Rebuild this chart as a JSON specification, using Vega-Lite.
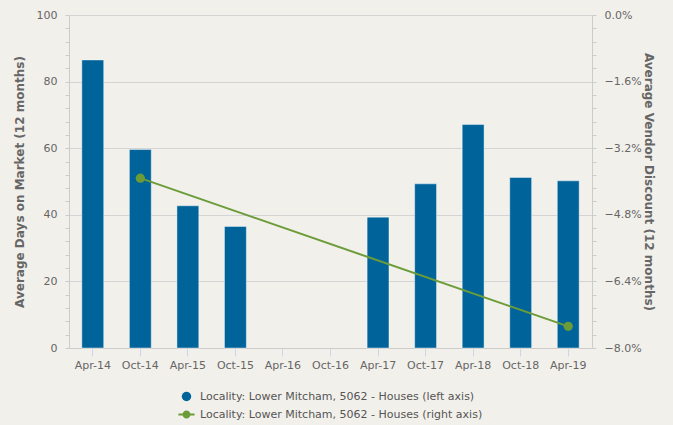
{
  "$schema": "https://vega.github.io/schema/vega-lite/v6.json",
  "width": 523,
  "height": 333,
  "autosize": "none",
  "padding": {"left": 69, "top": 15, "right": 81, "bottom": 77},
  "background": "#f2f0eb",
  "config": {
    "view": {"stroke": null},
    "font": "DejaVu Sans",
    "axis": {"labelFont": "DejaVu Sans", "titleFont": "DejaVu Sans", "labelColor": "#666666", "titleColor": "#666666", "labelFontSize": 11, "titleFontSize": 12, "titleFontWeight": "bold"}
  },
  "data": {
    "values": [
      {"period": "Apr-14", "days": 86.5, "discount": null},
      {"period": "Oct-14", "days": 59.6, "discount": -3.92},
      {"period": "Apr-15", "days": 42.7, "discount": null},
      {"period": "Oct-15", "days": 36.5, "discount": null},
      {"period": "Apr-16", "days": null, "discount": null},
      {"period": "Oct-16", "days": null, "discount": null},
      {"period": "Apr-17", "days": 39.3, "discount": null},
      {"period": "Oct-17", "days": 49.3, "discount": null},
      {"period": "Apr-18", "days": 67.1, "discount": null},
      {"period": "Oct-18", "days": 51.2, "discount": null},
      {"period": "Apr-19", "days": 50.2, "discount": -7.48}
    ]
  },
  "encoding": {
    "x": {
      "field": "period", "type": "ordinal", "sort": null,
      "scale": {"domain": ["Apr-14", "Oct-14", "Apr-15", "Oct-15", "Apr-16", "Oct-16", "Apr-17", "Oct-17", "Apr-18", "Oct-18", "Apr-19"], "paddingInner": 0.54, "paddingOuter": 0.27},
      "axis": {"title": null, "labelAngle": 0, "domainColor": "#cccccc", "tickColor": "#ccd6eb", "tickSize": 8, "labelPadding": 3, "grid": false}
    }
  },
  "layer": [
    {
      "mark": {"type": "bar", "stroke": "#ffffff", "strokeWidth": 0.6, "strokeOpacity": 0.7},
      "encoding": {
        "y": {
          "field": "days", "type": "quantitative",
          "scale": {"domain": [0, 100], "nice": false},
          "axis": {
            "title": "Average Days on Market (12 months)",
            "titlePadding": 10,
            "values": [0, 4, 8, 12, 16, 20, 24, 28, 32, 36, 40, 44, 48, 52, 56, 60, 64, 68, 72, 76, 80, 84, 88, 92, 96, 100],
            "labelExpr": "datum.value % 20 === 0 ? datum.label : ''",
            "grid": true,
            "gridColor": "#d4d4d4",
            "gridOpacity": {"condition": {"test": "datum.value % 20 === 0", "value": 1}, "value": 0},
            "domainColor": "#cccccc",
            "tickColor": "#cccccc",
            "tickSize": 4,
            "labelPadding": 8
          }
        },
        "color": {
          "datum": "Locality: Lower Mitcham, 5062 - Houses (left axis)",
          "type": "nominal",
          "scale": {
            "domain": ["Locality: Lower Mitcham, 5062 - Houses (left axis)", "Locality: Lower Mitcham, 5062 - Houses (right axis)"],
            "range": ["#00649b", "#6c9c38"]
          },
          "legend": {
            "title": null,
            "orient": "none",
            "legendX": 112,
            "legendY": 376,
            "direction": "vertical",
            "labelFont": "DejaVu Sans",
            "labelFontSize": 11,
            "labelColor": "#555555",
            "labelLimit": 0,
            "symbolSize": 90,
            "rowPadding": 6,
            "labelOffset": 8,
            "symbolStrokeWidth": 0,
            "symbolOpacity": 1,
            "symbolType": {"expr": "datum.value === 'Locality: Lower Mitcham, 5062 - Houses (left axis)' ? 'circle' : 'M-1.7,-0.2 L-0.8,-0.2 L-0.8,0.2 L-1.7,0.2 Z M0.8,-0.2 L1.7,-0.2 L1.7,0.2 L0.8,0.2 Z M-0.85,0 A0.85,0.85 0 1,1 0.85,0 A0.85,0.85 0 1,1 -0.85,0 Z'"}
          }
        }
      }
    },
    {
      "transform": [{"filter": "datum.discount != null"}],
      "layer": [
        {"mark": {"type": "line", "strokeWidth": 2, "color": "#6c9c38"}, "encoding": {}},
        {"mark": {"type": "point", "filled": true, "size": 85, "opacity": 1, "color": "#6c9c38"}, "encoding": {}}
      ],
      "encoding": {
        "y": {
          "field": "discount", "type": "quantitative",
          "scale": {"domain": [-8, 0], "nice": false},
          "axis": {
            "orient": "right",
            "title": "Average Vendor Discount (12 months)",
            "titlePadding": 0,
            "titleAngle": 90,
            "values": [-8, -7.68, -7.36, -7.04, -6.72, -6.4, -6.08, -5.76, -5.44, -5.12, -4.8, -4.48, -4.16, -3.84, -3.52, -3.2, -2.88, -2.56, -2.24, -1.92, -1.6, -1.28, -0.96, -0.64, -0.32, 0],
            "labelExpr": "abs(datum.value * 10 / 16 - round(datum.value * 10 / 16)) < 0.001 ? format(datum.value, '.1f') + '%' : ''",
            "grid": false,
            "domainColor": "#cccccc",
            "tickColor": "#cccccc",
            "tickSize": 4,
            "labelPadding": 8
          }
        }
      }
    }
  ],
  "resolve": {"scale": {"y": "independent"}}
}
